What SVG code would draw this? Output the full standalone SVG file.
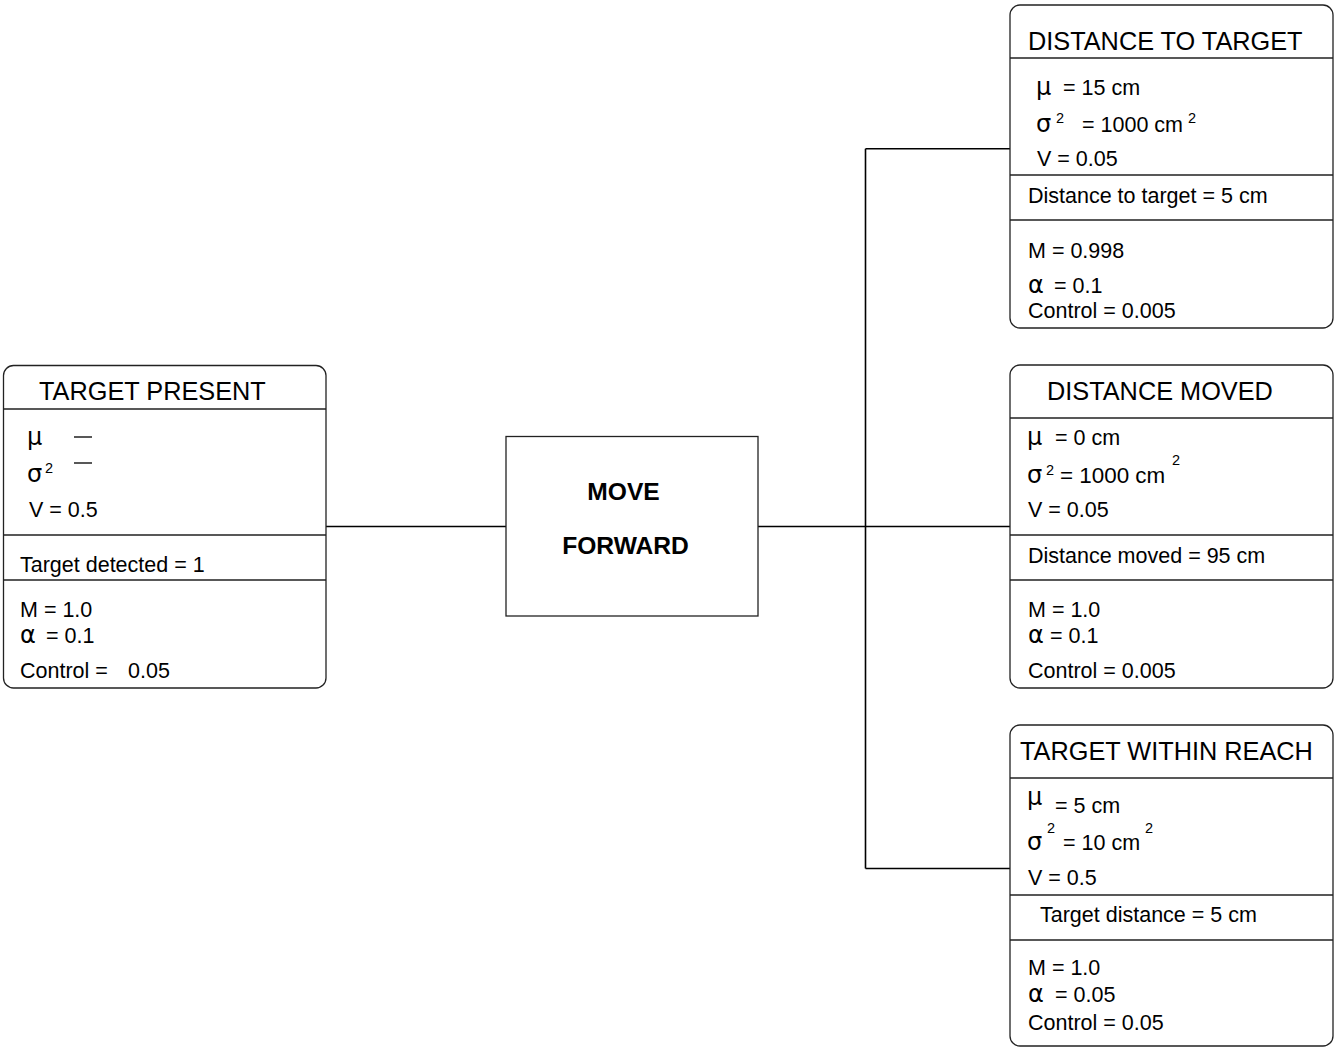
<svg xmlns="http://www.w3.org/2000/svg" width="1336" height="1047" viewBox="0 0 1336 1047">
<style>
.box{fill:#fff;stroke:#222;stroke-width:1.3}
.div{stroke:#222;stroke-width:1.3}
.con{stroke:#000;stroke-width:1.6;fill:none}
text{font-family:"Liberation Sans",Arial,sans-serif;fill:#000}
.t{font-size:25.3px}
.b{font-size:21.5px}
.g{font-family:"DejaVu Sans","Liberation Sans",sans-serif;font-size:24px}
.s{font-size:14.5px}
.m{font-size:24.6px;font-weight:bold}
</style>
<rect width="1336" height="1047" fill="#fff"/>
<g id="connectors">
<path class="con" d="M326 526.5H506"/>
<path class="con" d="M758 526.5H1010"/>
<path class="con" d="M865.5 148.7V868.5"/>
<path class="con" d="M865.5 148.7H1010"/>
<path class="con" d="M865.5 868.5H1010"/>
</g>
<g id="target-present">
<rect class="box" x="3.5" y="365.5" width="322.5" height="322.5" rx="10"/>
<path class="div" d="M3.5 409H326M3.5 535H326M3.5 580H326"/>
<text class="t" x="39" y="400">TARGET PRESENT</text>
<text class="g" x="27" y="445">μ</text>
<path class="div" d="M74 437H92M74 463H92"/>
<text class="g" x="27" y="482">σ</text>
<text class="s" x="45" y="473">2</text>
<text class="b" x="29" y="517">V = 0.5</text>
<text class="b" x="20" y="572">Target detected = 1</text>
<text class="b" x="20" y="617">M = 1.0</text>
<text class="g" x="20" y="643">α</text>
<text class="b" x="46" y="643">= 0.1</text>
<text class="b" x="20" y="678">Control =</text>
<text class="b" x="128" y="678">0.05</text>
</g>
<g id="move-forward">
<rect class="box" x="506" y="436.5" width="252" height="179.5"/>
<text class="m" x="623.5" y="500" text-anchor="middle">MOVE</text>
<text class="m" x="625.5" y="554" text-anchor="middle">FORWARD</text>
</g>
<g id="distance-to-target">
<rect class="box" x="1010" y="5" width="323" height="323" rx="10"/>
<path class="div" d="M1010 58H1333M1010 175H1333M1010 220H1333"/>
<text class="t" x="1028" y="50">DISTANCE TO TARGET</text>
<text class="g" x="1036" y="95">μ</text>
<text class="b" x="1063" y="95">= 15 cm</text>
<text class="g" x="1036" y="132">σ</text>
<text class="s" x="1056" y="123">2</text>
<text class="b" x="1082" y="132">= 1000 cm</text>
<text class="s" x="1188" y="123">2</text>
<text class="b" x="1037" y="166">V = 0.05</text>
<text class="b" x="1028" y="203">Distance to target = 5 cm</text>
<text class="b" x="1028" y="258">M = 0.998</text>
<text class="g" x="1028" y="293">α</text>
<text class="b" x="1054" y="293">= 0.1</text>
<text class="b" x="1028" y="318">Control = 0.005</text>
</g>
<g id="distance-moved">
<rect class="box" x="1010" y="365" width="323" height="323" rx="10"/>
<path class="div" d="M1010 418H1333M1010 535H1333M1010 580H1333"/>
<text class="t" x="1047" y="400">DISTANCE MOVED</text>
<text class="g" x="1027" y="445">μ</text>
<text class="b" x="1055" y="445">= 0 cm</text>
<text class="g" x="1027" y="483">σ</text>
<text class="s" x="1046" y="475">2</text>
<text class="b" x="1060" y="483" style="font-size:22.4px">= 1000 cm</text>
<text class="s" x="1172" y="465">2</text>
<text class="b" x="1028" y="517">V = 0.05</text>
<text class="b" x="1028" y="563">Distance moved = 95 cm</text>
<text class="b" x="1028" y="617">M = 1.0</text>
<text class="g" x="1028" y="643">α</text>
<text class="b" x="1050" y="643">= 0.1</text>
<text class="b" x="1028" y="678">Control = 0.005</text>
</g>
<g id="target-within-reach">
<rect class="box" x="1010" y="725" width="323" height="321" rx="10"/>
<path class="div" d="M1010 778H1333M1010 895H1333M1010 940H1333"/>
<text class="t" x="1020" y="760">TARGET WITHIN REACH</text>
<text class="g" x="1027" y="805">μ</text>
<text class="b" x="1055" y="813">= 5 cm</text>
<text class="g" x="1027" y="850">σ</text>
<text class="s" x="1047" y="833">2</text>
<text class="b" x="1063" y="850">= 10 cm</text>
<text class="s" x="1145" y="833">2</text>
<text class="b" x="1028" y="885">V = 0.5</text>
<text class="b" x="1040" y="922">Target distance = 5 cm</text>
<text class="b" x="1028" y="975">M = 1.0</text>
<text class="g" x="1028" y="1002">α</text>
<text class="b" x="1055" y="1002">= 0.05</text>
<text class="b" x="1028" y="1030">Control = 0.05</text>
</g>
</svg>
